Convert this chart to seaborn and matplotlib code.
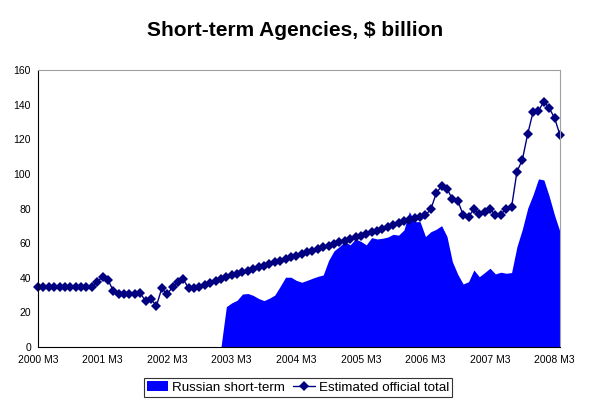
import numpy as np
import pandas as pd
import matplotlib
matplotlib.use('Agg')
import matplotlib.pyplot as plt
import seaborn as sns

# Monthly data, 2000 M3 .. 2008 M4 (98 months)
months = pd.period_range('2000-03', '2008-04', freq='M')
month_labels = [f"{p.year} M{p.month}" for p in months]

official_total = [
    34.5, 34.5, 34.5, 34.5, 34.5, 34.5, 34.5, 34.5, 34.5, 34.5, 34.5, 37.6,
    40.6, 38.7, 32.5, 30.4, 30.4, 30.4, 30.4, 31.0, 26.6, 27.7, 23.7, 33.9,
    30.4, 34.7, 37.4, 39.1, 33.9, 33.9, 34.9, 36.0, 37.0, 38.0, 39.1, 40.3,
    41.3, 42.2, 43.2, 44.1, 45.1, 46.1, 47.0, 48.0, 48.9, 49.9, 50.9, 51.8,
    52.8, 53.8, 54.7, 55.7, 56.6, 57.6, 58.6, 59.5, 60.5, 61.4, 62.4, 63.4,
    64.3, 65.3, 66.2, 67.2, 68.2, 69.5, 70.3, 71.5, 72.6, 73.4, 74.4, 75.0,
    76.1, 79.6, 88.8, 93.0, 91.5, 85.4, 84.6, 76.3, 75.3, 79.6, 76.9, 77.7,
    79.6, 76.3, 76.5, 80.0, 80.7, 101.3, 108.1, 123.1, 135.8, 136.4, 141.8, 138.0,
    132.2, 122.4,
]

russian_short_term = [
    0, 0, 0, 0, 0, 0, 0, 0, 0, 0, 0, 0,
    0, 0, 0, 0, 0, 0, 0, 0, 0, 0, 0, 0,
    0, 0, 0, 0, 0, 0, 0, 0, 0, 0, 0, 23.3,
    25.5, 27.0, 30.6, 30.9, 29.8, 28.0, 26.8, 28.2, 30.0, 35.0, 40.3, 40.3,
    38.5, 37.4, 38.5, 39.7, 40.8, 41.6, 50.0, 55.5, 58.0, 60.9, 59.0, 62.4,
    61.0, 59.0, 63.2, 62.4, 62.8, 63.5, 65.1, 64.6, 67.6, 78.2, 72.4, 72.4,
    63.8, 66.6, 68.0, 70.1, 63.8, 49.3, 42.0, 36.4, 37.7, 44.5, 40.6, 43.0,
    45.5, 42.2, 43.2, 42.6, 43.0, 58.0, 68.0, 80.2, 88.0, 97.1, 96.5, 87.0,
    76.0, 66.6,
]

df = pd.DataFrame({'idx': np.arange(len(months)),
                   'label': month_labels,
                   'Russian short-term': russian_short_term,
                   'Estimated official total': official_total})

sns.set_style('white')
plt.rcParams['font.family'] = ['Liberation Sans', 'DejaVu Sans']
plt.rcParams['text.color'] = 'black'
plt.rcParams['xtick.color'] = 'black'
plt.rcParams['ytick.color'] = 'black'
plt.rcParams['axes.labelcolor'] = 'black'

fig = plt.figure(figsize=(5.93, 4.05), dpi=100)
ax = fig.add_axes([38 / 593, 1 - 347 / 405, (560 - 38) / 593, (347 - 70) / 405])

ax.fill_between(df['idx'], 0, df['Russian short-term'], color='#0000FF',
                linewidth=0, label='Russian short-term')
sns.lineplot(data=df, x='idx', y='Estimated official total', ax=ax,
             color='#000080', marker='D', markersize=5, markeredgewidth=0,
             linewidth=1.0, label='Estimated official total', clip_on=False)

ax.set_xlim(0, len(months) - 1)
ax.set_ylim(0, 160)
ax.set_yticks(range(0, 161, 20))
tick_pos = list(range(0, len(months), 12))
ax.set_xticks(tick_pos)
ax.set_xticklabels([month_labels[i] for i in tick_pos])
ax.set_xlabel('')
ax.set_ylabel('')
ax.tick_params(axis='both', labelsize=7.5, length=3, width=0.8,
               direction='out', color='black', pad=2)
ax.tick_params(axis='x', pad=3)

for side in ['left', 'bottom']:
    ax.spines[side].set_color('black')
    ax.spines[side].set_linewidth(0.8)
for side in ['top', 'right']:
    ax.spines[side].set_color('#A0A0A0')
    ax.spines[side].set_linewidth(0.8)
ax.grid(False)

fig.suptitle('Short-term Agencies, $ billion', fontsize=15, fontweight='bold',
             color='black', x=0.497, y=1 - 30 / 405, va='center')

ax.get_legend().remove()
handles, labels = ax.get_legend_handles_labels()
leg = fig.legend(handles, labels, loc='center', ncol=2,
                 bbox_to_anchor=(298 / 593, 1 - 387.5 / 405),
                 fontsize=9.6, frameon=True, fancybox=False,
                 edgecolor='black', handlelength=1.6, handletextpad=0.3,
                 columnspacing=0.6, borderpad=0.25)
leg.get_frame().set_linewidth(0.8)

fig.savefig('out.png', dpi=100)
